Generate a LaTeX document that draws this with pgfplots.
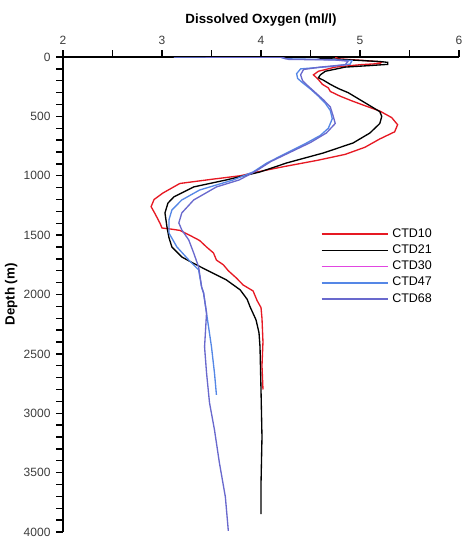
\documentclass[border=0pt]{standalone}
\usepackage{fontspec}
\setmainfont{Liberation Sans}
\usepackage{pgfplots}
\pgfplotsset{compat=1.18}
\definecolor{ctdred}{RGB}{230,25,35}
\definecolor{ctdmag}{RGB}{225,70,225}
\definecolor{ctdblue}{RGB}{85,135,230}
\definecolor{ctdslate}{RGB}{105,105,205}
\definecolor{ticktext}{RGB}{60,60,60}

\pgfplotstableread{
x y
4.75 0
4.78 15
5.05 30
5.22 42
5.20 55
5.00 65
4.75 85
4.58 120
4.53 150
4.58 190
4.62 230
4.68 260
4.70 290
4.80 330
4.92 370
5.05 410
5.20 455
5.32 510
5.38 570
5.35 630
5.20 690
5.05 760
4.85 820
4.57 870
4.25 920
3.95 970
3.79 1000
3.50 1030
3.18 1065
3.01 1145
2.92 1200
2.89 1260
2.93 1320
2.98 1400
3.00 1440
3.10 1450
3.18 1460
3.30 1510
3.38 1545
3.45 1600
3.52 1650
3.55 1710
3.62 1750
3.67 1800
3.75 1860
3.82 1920
3.92 1970
3.96 2050
4.00 2110
4.01 2200
4.02 2400
4.01 2600
4.02 2800
}\ctdten

\pgfplotstableread{
x y
4.55 0
4.60 10
4.80 20
5.20 38
5.28 45
5.28 62
5.10 72
4.85 85
4.65 120
4.60 150
4.58 175
4.63 195
4.70 230
4.78 265
4.88 300
5.00 360
5.10 410
5.20 460
5.22 500
5.20 560
5.10 640
4.93 724
4.63 808
4.26 892
3.99 968
3.65 1035
3.32 1094
3.12 1178
3.06 1230
3.03 1313
3.05 1430
3.07 1520
3.10 1600
3.20 1684
3.31 1734
3.45 1793
3.65 1877
3.79 1961
3.86 2040
3.89 2104
3.95 2214
3.98 2323
3.99 2441
4.00 2800
4.01 3200
4.00 3600
4.00 3850
}\ctdtwentyone

\pgfplotstableread{
x y
3.12 0
4.20 2
4.25 15
4.70 22
4.92 30
4.90 60
4.70 80
4.40 100
4.36 140
4.37 180
4.41 210
4.50 270
4.58 330
4.65 390
4.70 450
4.72 520
4.68 600
4.60 660
4.46 724
4.26 808
4.06 892
3.92 968
3.72 1035
3.50 1090
3.38 1120
3.20 1204
3.10 1288
3.07 1372
3.07 1482
3.15 1599
3.27 1709
3.37 1793
3.40 1936
3.42 1987
3.46 2214
3.50 2441
3.53 2660
3.55 2845
}\ctdfortyseven

\pgfplotstableread{
x y
3.12 0
4.20 2
4.28 20
4.75 25
4.88 35
4.85 65
4.60 85
4.43 105
4.40 150
4.42 200
4.47 240
4.55 300
4.63 360
4.70 420
4.73 500
4.75 560
4.66 640
4.50 720
4.30 800
4.10 880
3.95 960
3.78 1035
3.55 1094
3.32 1204
3.20 1313
3.17 1397
3.20 1456
3.27 1540
3.32 1650
3.37 1768
3.40 1936
3.42 1987
3.45 2155
3.43 2441
3.45 2660
3.48 2912
3.53 3139
3.58 3418
3.64 3704
3.67 3990
}\ctdsixtyeight

\begin{document}
\begin{tikzpicture}
% page = 462x537 px at 0.6pt per px, axis box top-left at (63,57) px
\path[use as bounding box] (-37.8pt,34.2pt) rectangle (239.4pt,-288pt);
\begin{axis}[
    at={(0pt,0pt)}, anchor=north west,
    scale only axis,
    width=237.6pt, height=285pt,
    xmin=2, xmax=6, ymin=0, ymax=4000,
    y dir=reverse,
    axis x line=top, axis y line=left,
    axis line style={-, line width=0.9pt},
    xtick={2,3,4,5,6},
    minor xtick={2.5,3.5,4.5,5.5},
    ytick={0,500,...,4000},
    minor ytick={100,200,...,3900},
    tick align=outside,
    major tick length=4pt, minor tick length=4pt,
    every tick/.style={line width=0.8pt, black},
    tick label style={font=\fontsize{7.2}{8}\selectfont, text=ticktext},
    /pgf/number format/assume math mode=true,
    /pgf/number format/1000 sep={},
    xlabel={\textbf{Dissolved Oxygen (ml/l)}},
    xlabel style={font=\fontsize{8}{9}\selectfont, yshift=-1pt},
    ylabel={\textbf{Depth (m)}},
    ylabel style={font=\fontsize{8}{9}\selectfont, yshift=-3pt},
    legend style={draw=none, fill=none, at={(axis cs:4.55,1385)}, anchor=north west,
        font=\fontsize{7.5}{8}\selectfont, row sep=-1pt},
    legend cell align=left,
    legend image code/.code={\draw[#1, line width=0.9pt] (0pt,0pt) -- (40pt,0pt);},
    every axis plot/.append style={line width=0.8pt},
]
\addplot[color=ctdred] table[x=x,y=y] {\ctdten};
\addlegendentry{CTD10}
\addplot[color=black] table[x=x,y=y] {\ctdtwentyone};
\addlegendentry{CTD21}
\addlegendimage{color=ctdmag}
\addlegendentry{CTD30}
\addplot[color=ctdblue] table[x=x,y=y] {\ctdfortyseven};
\addlegendentry{CTD47}
\addplot[color=ctdslate] table[x=x,y=y] {\ctdsixtyeight};
\addlegendentry{CTD68}
\end{axis}
\end{tikzpicture}
\end{document}
